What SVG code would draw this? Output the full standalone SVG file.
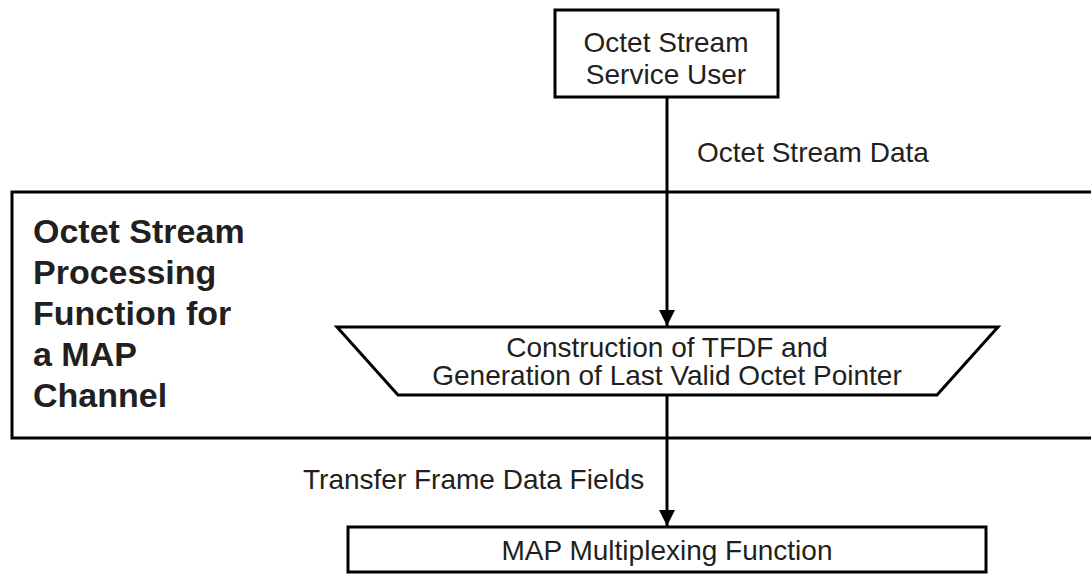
<svg xmlns="http://www.w3.org/2000/svg" width="1091" height="574" viewBox="0 0 1091 574">
<style>
.box{fill:#fff;stroke:#000;stroke-width:3}
.t{font-family:"Liberation Sans",Arial,sans-serif;font-size:28px;fill:#231f20}
.c{text-anchor:middle}
.b{font-family:"Liberation Sans",Arial,sans-serif;font-size:34px;font-weight:bold;fill:#231f20}
.ln{stroke:#000;stroke-width:3;fill:none}
</style>
<defs>
<marker id="ah" markerWidth="16" markerHeight="16" refX="16" refY="8" orient="auto" markerUnits="userSpaceOnUse">
<path d="M0,0 L16,8 L0,16 Z" fill="#000"/>
</marker>
</defs>
<rect width="1091" height="574" fill="#fff"/>
<g id="processing-function">
<rect class="box" x="12" y="192" width="1090" height="246"/>
<text class="b" x="33"><tspan x="33" y="243">Octet Stream</tspan><tspan x="33" y="284">Processing</tspan><tspan x="33" y="325">Function for</tspan><tspan x="33" y="366">a MAP</tspan><tspan x="33" y="407">Channel</tspan></text>
</g>
<g id="service-user">
<rect class="box" x="555" y="10" width="223" height="87"/>
<text class="t c" x="666" y="52">Octet Stream</text>
<text class="t c" x="666" y="84">Service User</text>
</g>
<g id="construction">
<polygon class="box" points="337,327 998,327 937,395 398,395"/>
<text class="t c" x="667" y="357">Construction of TFDF and</text>
<text class="t c" x="667" y="385">Generation of Last Valid Octet Pointer</text>
</g>
<g id="map-mux">
<rect class="box" x="348" y="527" width="638" height="45"/>
<text class="t c" x="667" y="560">MAP Multiplexing Function</text>
</g>
<g id="connectors">
<line class="ln" x1="667" y1="97" x2="667" y2="326" marker-end="url(#ah)"/>
<line class="ln" x1="667" y1="395" x2="667" y2="526" marker-end="url(#ah)"/>
<text class="t" x="697" y="162">Octet Stream Data</text>
<text class="t" x="303" y="489">Transfer Frame Data Fields</text>
</g>
</svg>
